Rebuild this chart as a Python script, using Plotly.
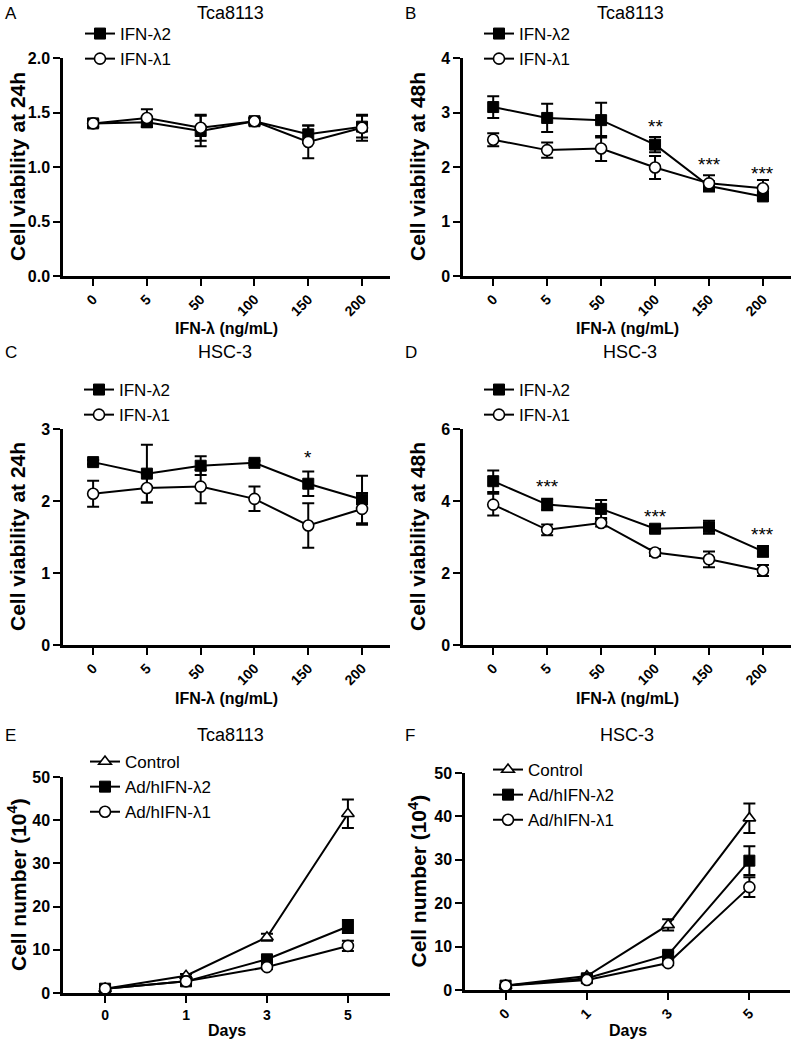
import plotly.graph_objects as go

# dose categories and day categories
doses = ["0", "5", "50", "100", "150", "200"]
days = ["0", "1", "3", "5"]

# A: Tca8113, 24h
a_l2 = [1.40, 1.41, 1.33, 1.42, 1.30, 1.37]
a_l2_err = [0.03, 0.04, 0.14, 0.03, 0.08, 0.10]
a_l1 = [1.40, 1.45, 1.36, 1.42, 1.23, 1.36]
a_l1_err = [0.03, 0.08, 0.12, 0.03, 0.15, 0.12]

# B: Tca8113, 48h
b_l2 = [3.10, 2.90, 2.86, 2.41, 1.65, 1.46]
b_l2_err = [0.20, 0.26, 0.32, 0.14, 0.06, 0.05]
b_l1 = [2.50, 2.31, 2.34, 1.99, 1.70, 1.61]
b_l1_err = [0.12, 0.14, 0.23, 0.21, 0.15, 0.15]
b_stars = ["", "", "", "**", "***", "***"]
b_star_y = [0, 0, 0, 2.74, 2.04, 1.89]

# C: HSC-3, 24h
c_l2 = [2.54, 2.38, 2.49, 2.53, 2.24, 2.02]
c_l2_err = [0.03, 0.40, 0.13, 0.03, 0.17, 0.33]
c_l1 = [2.10, 2.18, 2.20, 2.03, 1.66, 1.89]
c_l1_err = [0.18, 0.20, 0.23, 0.17, 0.31, 0.22]
c_stars = ["", "", "", "", "*", ""]
c_star_y = [0, 0, 0, 0, 2.60, 0]

# D: HSC-3, 48h
d_l2 = [4.55, 3.90, 3.78, 3.23, 3.27, 2.60]
d_l2_err = [0.30, 0.16, 0.25, 0.08, 0.18, 0.15]
d_l1 = [3.90, 3.20, 3.39, 2.57, 2.38, 2.07]
d_l1_err = [0.30, 0.15, 0.10, 0.10, 0.22, 0.15]
d_stars = ["", "***", "", "***", "", "***"]
d_star_y = [0, 4.41, 0, 3.57, 0, 3.06]

# E: Tca8113 growth
e_ctrl = [1.0, 4.0, 12.9, 41.5]
e_ctrl_err = [0.2, 0.4, 0.8, 3.3]
e_l2 = [1.0, 2.7, 7.8, 15.4]
e_l2_err = [0.2, 0.3, 0.6, 1.5]
e_l1 = [1.0, 2.7, 6.0, 10.9]
e_l1_err = [0.2, 0.3, 0.5, 1.2]

# F: HSC-3 growth
f_ctrl = [1.0, 3.2, 15.0, 39.6]
f_ctrl_err = [0.2, 0.3, 1.3, 3.4]
f_l2 = [1.0, 2.7, 8.1, 29.8]
f_l2_err = [0.2, 0.3, 0.6, 3.3]
f_l1 = [1.0, 2.3, 6.2, 23.7]
f_l1_err = [0.2, 0.3, 0.5, 2.3]

W, H = 794, 1042
FONT = "Liberation Sans, Arial, sans-serif"

MARKERS = {
    "square": dict(symbol="square", size=11, color="black",
                   line=dict(color="black", width=1)),
    "circle": dict(symbol="circle", size=11, color="white",
                   line=dict(color="black", width=1.6)),
    "triangle": dict(symbol="triangle-up", size=11, color="white",
                     line=dict(color="black", width=1.6)),
}


# positions are given in page pixels
def px(p):
    return p / W


def py(p):
    return 1 - p / H


def xd(p0, p1):
    return [px(p0), px(p1)]


def yd(top, bottom):
    return [py(bottom), py(top)]


fig = go.Figure()
annotations = []


def add_panel(n, cats, series, xdom, ydom, xrange, yrange, dtick, tickfmt,
              tickangle, ytitle, xtitle, xtitle_y, ytitle_x, title, title_x,
              title_y, letter, letter_x, legend_xy, stars=None, star_y=None):
    sfx = "" if n == 1 else str(n)
    xa, ya = "x" + sfx, "y" + sfx
    leg = "legend" + sfx
    for name, vals, errs, sym in series:
        fig.add_trace(go.Scatter(
            x=cats, y=vals, name=name, mode="lines+markers",
            xaxis=xa, yaxis=ya, legend=leg, legendgroup=f"{n}{name}",
            line=dict(color="black", width=2),
            marker=MARKERS[sym],
            error_y=dict(type="data", array=errs, color="black",
                         thickness=2, width=6),
            cliponaxis=False,
        ))
    axis_common = dict(
        showline=True, linecolor="black", linewidth=2.5, mirror=False,
        showgrid=False, zeroline=False, ticks="outside", ticklen=7,
        tickwidth=2, tickcolor="black", automargin=False,
    )
    fig.update_layout(**{
        "xaxis" + sfx: dict(
            domain=xdom, anchor=ya, type="category", range=xrange,
            tickangle=tickangle,
            tickfont=dict(family=FONT, size=14, color="black", weight="bold"),
            **axis_common),
        "yaxis" + sfx: dict(
            domain=ydom, anchor=xa, range=yrange, dtick=dtick,
            tickformat=tickfmt,
            tickfont=dict(family=FONT, size=16, color="black", weight="bold"),
            **axis_common),
        leg: dict(x=px(legend_xy[0]), y=py(legend_xy[1]),
                  xanchor="left", yanchor="top", bgcolor="rgba(0,0,0,0)",
                  font=dict(family=FONT, size=17, color="black"),
                  tracegroupgap=0, itemwidth=30),
    })
    xmid = (xdom[0] + xdom[1]) / 2
    annotations.append(dict(
        text=xtitle, x=xmid, y=py(xtitle_y), xref="paper", yref="paper",
        showarrow=False, xanchor="center", yanchor="middle",
        font=dict(family=FONT, size=16, color="black", weight="bold")))
    annotations.append(dict(
        text=ytitle, x=px(ytitle_x), y=(ydom[0] + ydom[1]) / 2,
        xref="paper", yref="paper", textangle=-90, showarrow=False,
        xanchor="center", yanchor="middle",
        font=dict(family=FONT, size=21, color="black", weight="bold")))
    annotations.append(dict(
        text=title, x=px(title_x), y=py(title_y), xref="paper",
        yref="paper", showarrow=False, xanchor="center", yanchor="middle",
        font=dict(family=FONT, size=18, color="black")))
    annotations.append(dict(
        text=letter, x=px(letter_x), y=py(title_y), xref="paper",
        yref="paper", showarrow=False, xanchor="left", yanchor="middle",
        font=dict(family=FONT, size=17, color="black")))
    if stars:
        for i, (s, sy) in enumerate(zip(stars, star_y)):
            if s:
                # category index keeps numeric-looking labels unambiguous
                annotations.append(dict(
                    text=s, x=i, y=sy, xref=xa, yref=ya, showarrow=False,
                    xanchor="center", yanchor="middle",
                    font=dict(family=FONT, size=19, color="black")))


add_panel(1, doses,
          [("IFN-λ2", a_l2, a_l2_err, "square"),
           ("IFN-λ1", a_l1, a_l1_err, "circle")],
          xd(63, 390), yd(58, 276), [-0.56, 5.52], [0, 2], 0.5, ".1f", -45,
          "Cell viability at 24h", "IFN-λ (ng/mL)", 328, 17,
          "Tca8113", 230, 13, "A", 3, (80, 16))
add_panel(2, doses,
          [("IFN-λ2", b_l2, b_l2_err, "square"),
           ("IFN-λ1", b_l1, b_l1_err, "circle")],
          xd(463, 791), yd(58, 276), [-0.56, 5.52], [0, 4], 1, "d", -45,
          "Cell viability at 48h", "IFN-λ (ng/mL)", 328, 417,
          "Tca8113", 630, 13, "B", 403, (479, 16), b_stars, b_star_y)
add_panel(3, doses,
          [("IFN-λ2", c_l2, c_l2_err, "square"),
           ("IFN-λ1", c_l1, c_l1_err, "circle")],
          xd(63, 390), yd(429, 645), [-0.56, 5.52], [0, 3], 1, "d", -45,
          "Cell viability at 24h", "IFN-λ (ng/mL)", 698, 17,
          "HSC-3", 225, 352, "C", 3, (79, 372), c_stars, c_star_y)
add_panel(4, doses,
          [("IFN-λ2", d_l2, d_l2_err, "square"),
           ("IFN-λ1", d_l1, d_l1_err, "circle")],
          xd(463, 791), yd(429, 645), [-0.56, 5.52], [0, 6], 2, "d", -45,
          "Cell viability at 48h", "IFN-λ (ng/mL)", 698, 417,
          "HSC-3", 630, 352, "D", 403, (479, 372), d_stars, d_star_y)
add_panel(5, days,
          [("Control", e_ctrl, e_ctrl_err, "triangle"),
           ("Ad/hIFN-λ2", e_l2, e_l2_err, "square"),
           ("Ad/hIFN-λ1", e_l1, e_l1_err, "circle")],
          xd(63, 390), yd(777, 993), [-0.52, 3.52], [0, 50], 10, "d", 0,
          "Cell number (10<sup>4</sup>)", "Days", 1030, 17,
          "Tca8113", 230, 735, "E", 3, (85, 744))
add_panel(6, days,
          [("Control", f_ctrl, f_ctrl_err, "triangle"),
           ("Ad/hIFN-λ2", f_l2, f_l2_err, "square"),
           ("Ad/hIFN-λ1", f_l1, f_l1_err, "circle")],
          xd(465, 790), yd(773, 990), [-0.5, 3.5], [0, 50], 10, "d", -45,
          "Cell number (10<sup>4</sup>)", "Days", 1030, 417,
          "HSC-3", 627, 735, "F", 403, (488, 752))

fig.update_layout(
    width=W, height=H, margin=dict(l=0, r=0, t=0, b=0),
    paper_bgcolor="white", plot_bgcolor="white",
    font=dict(family=FONT, color="black"),
    annotations=annotations,
)

config = {
    'displayModeBar': False,
}

# drop the default body margin so the figure fills the window exactly
fig.write_html("out.html", config=config,
               post_script="document.body.style.margin = '0';")
